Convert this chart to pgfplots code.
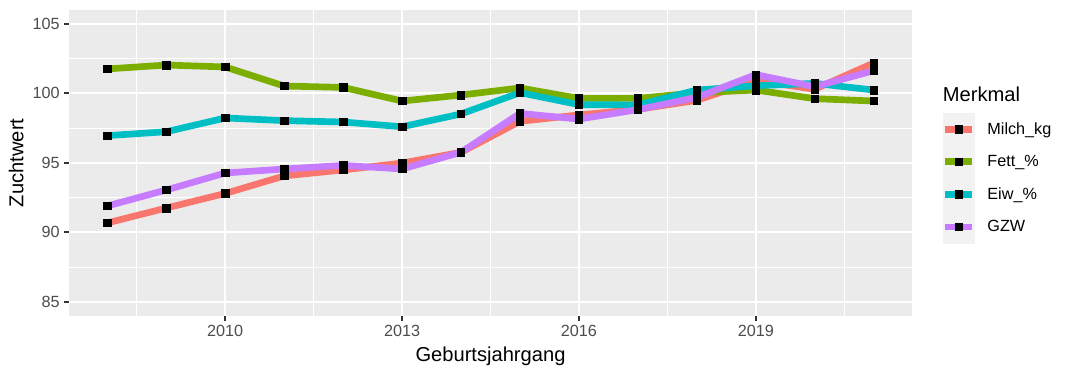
\documentclass[border=0pt]{standalone}
\usepackage{pgfplots}
\pgfplotsset{compat=1.18}
\usepackage{pgfplotstable}
\usepackage{fontspec}
\setmainfont{Liberation Sans}
\definecolor{cMilch}{HTML}{F8766D}
\definecolor{cFett}{HTML}{7CAE00}
\definecolor{cEiw}{HTML}{00BFC4}
\definecolor{cGZW}{HTML}{C77CFF}
\definecolor{panelbg}{HTML}{EBEBEB}
\definecolor{keybg}{HTML}{F2F2F2}
\definecolor{ticklab}{HTML}{4D4D4D}
\definecolor{tickcol}{HTML}{333333}

\pgfplotstableread{
year Milch Fett Eiw GZW
2008 90.68 101.76 96.96 91.90
2009 91.75 102.04 97.24 93.05
2010 92.80 101.90 98.23 94.27
2011 94.06 100.53 98.04 94.56
2012 94.49 100.43 97.94 94.82
2013 94.99 99.45 97.60 94.56
2014 95.76 99.88 98.52 95.76
2015 97.99 100.39 100.05 98.56
2016 98.45 99.64 99.19 98.15
2017 98.85 99.64 99.17 98.83
2018 99.50 100.05 100.24 99.71
2019 100.91 100.24 100.55 101.35
2020 100.30 99.62 100.72 100.48
2021 102.19 99.45 100.24 101.63
}\data

\pgfplotsset{ggkey/.style={legend image code/.code={
  \fill[keybg] (0pt,-12pt) rectangle (23.7pt,12pt);
  \draw[line width=5pt, line cap=butt, #1] (1.7pt,0pt) -- (22pt,0pt);
  \draw plot coordinates {(11.85pt,0pt)};
}}}

\begin{document}
\begin{tikzpicture}
\useasboundingbox (-51.75pt,-45.2pt) rectangle (747pt,236.8pt);
\begin{axis}[
  at={(0pt,0pt)}, anchor=south west,
  scale only axis, width=632.25pt, height=229.3pt,
  xmin=2007.35, xmax=2021.65, ymin=84, ymax=106,
  clip=false,
  xtick={2010,2013,2016,2019}, xticklabels={2010,2013,2016,2019},
  minor xtick={2008.5,2011.5,2014.5,2017.5,2020.5},
  ytick={85,90,95,100,105}, minor ytick={87.5,92.5,97.5,102.5},
  grid=both,
  major grid style={white, line width=1.5pt},
  minor grid style={white, line width=0.75pt},
  axis background/.style={fill=panelbg},
  axis line style={draw=none},
  tick align=outside, xtick pos=bottom, ytick pos=left,
  major tick length=3.75pt, minor tick length=0pt,
  tick style={tickcol, line width=1.5pt},
  /pgf/number format/assume math mode=true,
  ticklabel style={font=\fontsize{12.15}{14}\selectfont, text=ticklab},
  xticklabel style={inner sep=0pt, yshift=-3.2pt},
  yticklabel style={inner sep=0pt, xshift=-3pt},
  xlabel={Geburtsjahrgang},
  xlabel style={at={(axis description cs:0.5,-0.1505)}, anchor=base, font=\fontsize{15.1}{18}\selectfont, inner sep=0pt},
  ylabel={Zuchtwert},
  ylabel style={at={(axis description cs:-0.0542,0.5)}, anchor=base, rotate=0, font=\fontsize{15.1}{18}\selectfont, inner sep=0pt},
  legend style={at={(1.0352,0.664)}, anchor=north west, draw=none, fill=none,
    inner sep=0pt, row sep=0pt, column sep=8.8pt,
    nodes={inner sep=0pt, font=\fontsize{12.15}{14}\selectfont, text=black}},
  legend cell align=left,
]
\addplot[cMilch, line width=5pt, line join=round, forget plot] table[x=year,y=Milch]{\data};
\addplot[cFett, line width=5pt, line join=round, forget plot] table[x=year,y=Fett]{\data};
\addplot[cEiw, line width=5pt, line join=round, forget plot] table[x=year,y=Eiw]{\data};
\addplot[cGZW, line width=5pt, line join=round, forget plot] table[x=year,y=GZW]{\data};

\addplot[only marks, mark=square*, mark size=2.8pt, black, ggkey=cMilch] table[x=year,y=Milch]{\data};
\addlegendentry{Milch\_kg}
\addplot[only marks, mark=square*, mark size=2.8pt, black, ggkey=cFett] table[x=year,y=Fett]{\data};
\addlegendentry{Fett\_\%}
\addplot[only marks, mark=square*, mark size=2.8pt, black, ggkey=cEiw] table[x=year,y=Eiw]{\data};
\addlegendentry{Eiw\_\%}
\addplot[only marks, mark=square*, mark size=2.8pt, black, ggkey=cGZW] table[x=year,y=GZW]{\data};
\addlegendentry{GZW}

\node[anchor=base west, font=\fontsize{15.1}{18}\selectfont, inner sep=0pt] at (rel axis cs:1.0364,0.700) {Merkmal};
\end{axis}
\end{tikzpicture}
\end{document}
